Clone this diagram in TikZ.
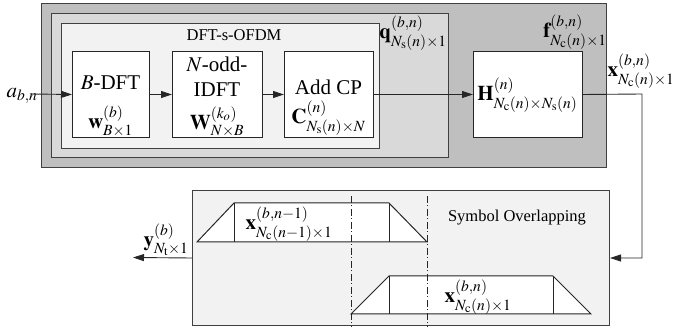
\documentclass[tikz,border=0pt]{standalone}
\usepackage{mathptmx}
\usepackage{fontspec}
\setmainfont{Liberation Serif}
\usetikzlibrary{arrows.meta}
\begin{document}
\begin{tikzpicture}[x=1pt,y=-1pt,
  arr/.style={-{Triangle[length=11pt,width=7pt]}, line width=0.9pt, draw=black!85},
  frame/.style={draw=black!75, line width=1pt, anchor=north west, inner sep=0pt},
  blk/.style={draw=black!85, fill=white, line width=1pt, anchor=north west, inner sep=0pt},
  big/.style={font=\fontsize{21}{23}\selectfont, inner sep=0pt},
  small/.style={font=\fontsize{16.5}{18}\selectfont, inner sep=0pt},
  trap/.style={draw=black!85, line width=1pt, fill=white},
  ddash/.style={draw=black!85, line width=0.8pt, dash pattern=on 7pt off 2.5pt on 1pt off 2.5pt}]
\useasboundingbox (0,0) rectangle (678,331);
% frames
\node[frame, fill=black!25, minimum width=565pt, minimum height=164pt] (outer) at (41,3) {};
\node[frame, fill=black!15, minimum width=397pt, minimum height=144pt] (middle) at (51,13) {};
\node[frame, fill=black!5, minimum width=318pt, minimum height=125pt] (inner) at (61,23) {};
\node[small] (dftlbl) at (234,35) {DFT-s-OFDM};
% blocks
\node[blk, minimum width=77pt, minimum height=86pt] (b1) at (72,51) {};
\node[blk, minimum width=90pt, minimum height=86pt] (b2) at (172,51) {};
\node[blk, minimum width=89pt, minimum height=86pt] (b3) at (284,51) {};
\node[blk, minimum width=109pt, minimum height=86pt] (H) at (473,51) {};
\node[big] (t1a) at (110.5,83) {$B$-DFT};
\node[big] (t1b) at (110.5,121) {$\mathbf{w}^{(b)}_{B\times 1}$};
\node[big] (t2a) at (217,64) {$N$-odd-};
\node[big] (t2b) at (217,90) {IDFT};
\node[big] (t2c) at (217,121.5) {$\mathbf{W}^{(k_o)}_{N\times B}$};
\node[big] (t3a) at (328.5,87) {Add CP};
\node[big] (t3b) at (328.5,118) {$\mathbf{C}^{(n)}_{N_{\mathrm{s}}(n)\times N}$};
\node[big] (tH) at (527.5,95) {$\mathbf{H}^{(n)}_{N_{\mathrm{c}}(n)\times N_{\mathrm{s}}(n)}$};
% signal labels
\node[big] (alab) at (22,96) {$a_{b,n}$};
\node[big] (qlab) at (413,33) {$\mathbf{q}^{(b,n)}_{N_{\mathrm{s}}(n)\times 1}$};
\node[big] (flab) at (575,32) {$\mathbf{f}^{(b,n)}_{N_{\mathrm{c}}(n)\times 1}$};
\node[big] (xlab) at (641,71) {$\mathbf{x}^{(b,n)}_{N_{\mathrm{c}}(n)\times 1}$};
% symbol overlapping
\node[frame, fill=black!5, minimum width=417pt, minimum height=135pt] (sym) at (192,190) {};
\node[small] (symlbl) at (517,218) {Symbol Overlapping};
\draw[trap] (197,242) -- (234,203) -- (389,203) -- (427,242) -- cycle;
\draw[trap] (234,203) -- (234,242) (389,203) -- (389,242);
\draw[trap] (351,314) -- (389,276) -- (553,276) -- (591,314) -- cycle;
\draw[trap] (389,276) -- (389,314) (553,276) -- (553,314);
\node[big] (xprev) at (289,224) {$\mathbf{x}^{(b,n-1)}_{N_{\mathrm{c}}(n-1)\times 1}$};
\node[big] (xcur) at (478,297) {$\mathbf{x}^{(b,n)}_{N_{\mathrm{c}}(n)\times 1}$};
\draw[ddash] (351,196) -- (351,327);
\draw[ddash] (427,196) -- (427,327);
\node[big] (ylab) at (166,240) {$\mathbf{y}^{(b)}_{N_{\mathrm{t}}\times 1}$};
% connectors
\coordinate (ain) at (32,94);
\coordinate (turn) at (642,94);
\coordinate (yout) at (133,257.5);
\draw[arr] (ain) -- (b1.west);
\draw[arr] (b1.east) -- (b2.west);
\draw[arr] (b2.east) -- (b3.west);
\draw[arr] (b3.east) -- (H.west);
\draw[arr] (H.east) -- (turn) |- (sym.east);
\draw[arr] (sym.west) -- (yout);
\end{tikzpicture}
\end{document}
